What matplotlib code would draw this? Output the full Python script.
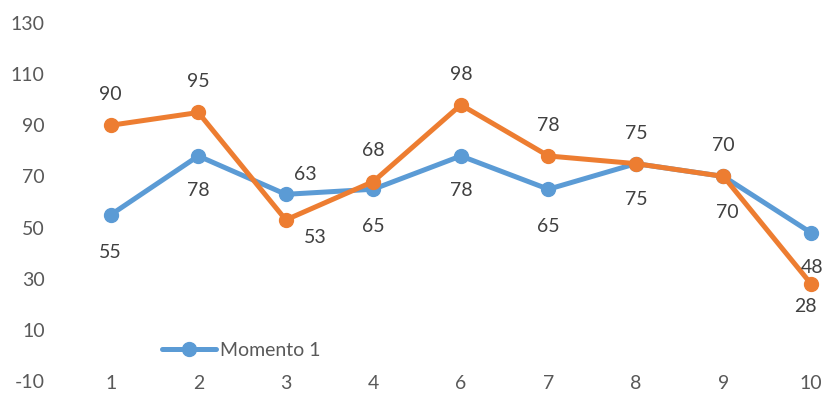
import matplotlib

matplotlib.use("Agg")
import matplotlib.pyplot as plt

plt.rcParams["font.family"] = ["Lato", "DejaVu Sans"]
plt.rcParams["axes.unicode_minus"] = False

CATEGORIES = ["1", "2", "3", "4", "6", "7", "8", "9", "10"]
MOMENTO_1 = [55, 78, 63, 65, 78, 65, 75, 70, 48]
MOMENTO_2 = [90, 95, 53, 68, 98, 78, 75, 70, 28]
Y_TICKS = [-10, 10, 30, 50, 70, 90, 110, 130]

BLUE = "#5B9BD5"
ORANGE = "#ED7D31"
TEXT = "#595959"
LABEL = "#404040"

# label offsets in points (dx, dy), mostly below for series 1, above for series 2
OFFSETS_1 = [(0, -27), (0, -25), (14, 14), (0, -27), (0, -25), (0, -27), (0, -26), (3, -26), (1, -25)]
OFFSETS_2 = [(0, 22), (0, 22), (21, -13), (0, 22), (0, 22), (0, 22), (0, 22), (0, 22), (-4, -16)]

fig = plt.figure(figsize=(8.28, 3.97), dpi=100)
ax = fig.add_axes([67 / 828, 1 - 381 / 397, 761 / 828, 358 / 397])

x = list(range(len(CATEGORIES)))
ax.plot(x, MOMENTO_1, color=BLUE, lw=3.6, marker="o", ms=10, label="Momento 1",
        solid_capstyle="round", zorder=3)
ax.plot(x, MOMENTO_2, color=ORANGE, lw=3.6, marker="o", ms=10, label="_Momento 2",
        solid_capstyle="round", zorder=4)

for xi, v, (dx, dy) in zip(x, MOMENTO_1, OFFSETS_1):
    ax.annotate(str(v), (xi, v), xytext=(dx, dy), textcoords="offset points",
                ha="center", va="center", fontsize=14, color=LABEL, zorder=5)
for xi, v, (dx, dy) in zip(x, MOMENTO_2, OFFSETS_2):
    ax.annotate(str(v), (xi, v), xytext=(dx, dy), textcoords="offset points",
                ha="center", va="center", fontsize=14, color=LABEL, zorder=5)

ax.set_xlim(-0.5, (828 - 111) / 87.5)
ax.set_ylim(-10, 130)
ax.set_yticks(Y_TICKS)
ax.set_xticks(x)
ax.set_xticklabels(CATEGORIES)
ax.tick_params(axis="both", length=0, labelsize=14, labelcolor=TEXT)
ax.tick_params(axis="y", pad=16)
ax.tick_params(axis="x", pad=-4)
for spine in ax.spines.values():
    spine.set_visible(False)

ax.legend(loc="center left", bbox_to_anchor=(87 / 761, (381 - 350) / 358),
          frameon=False, fontsize=14, handlelength=2.8, handletextpad=0.2,
          borderaxespad=0, labelcolor=TEXT)

fig.savefig("out.png", dpi=100)
